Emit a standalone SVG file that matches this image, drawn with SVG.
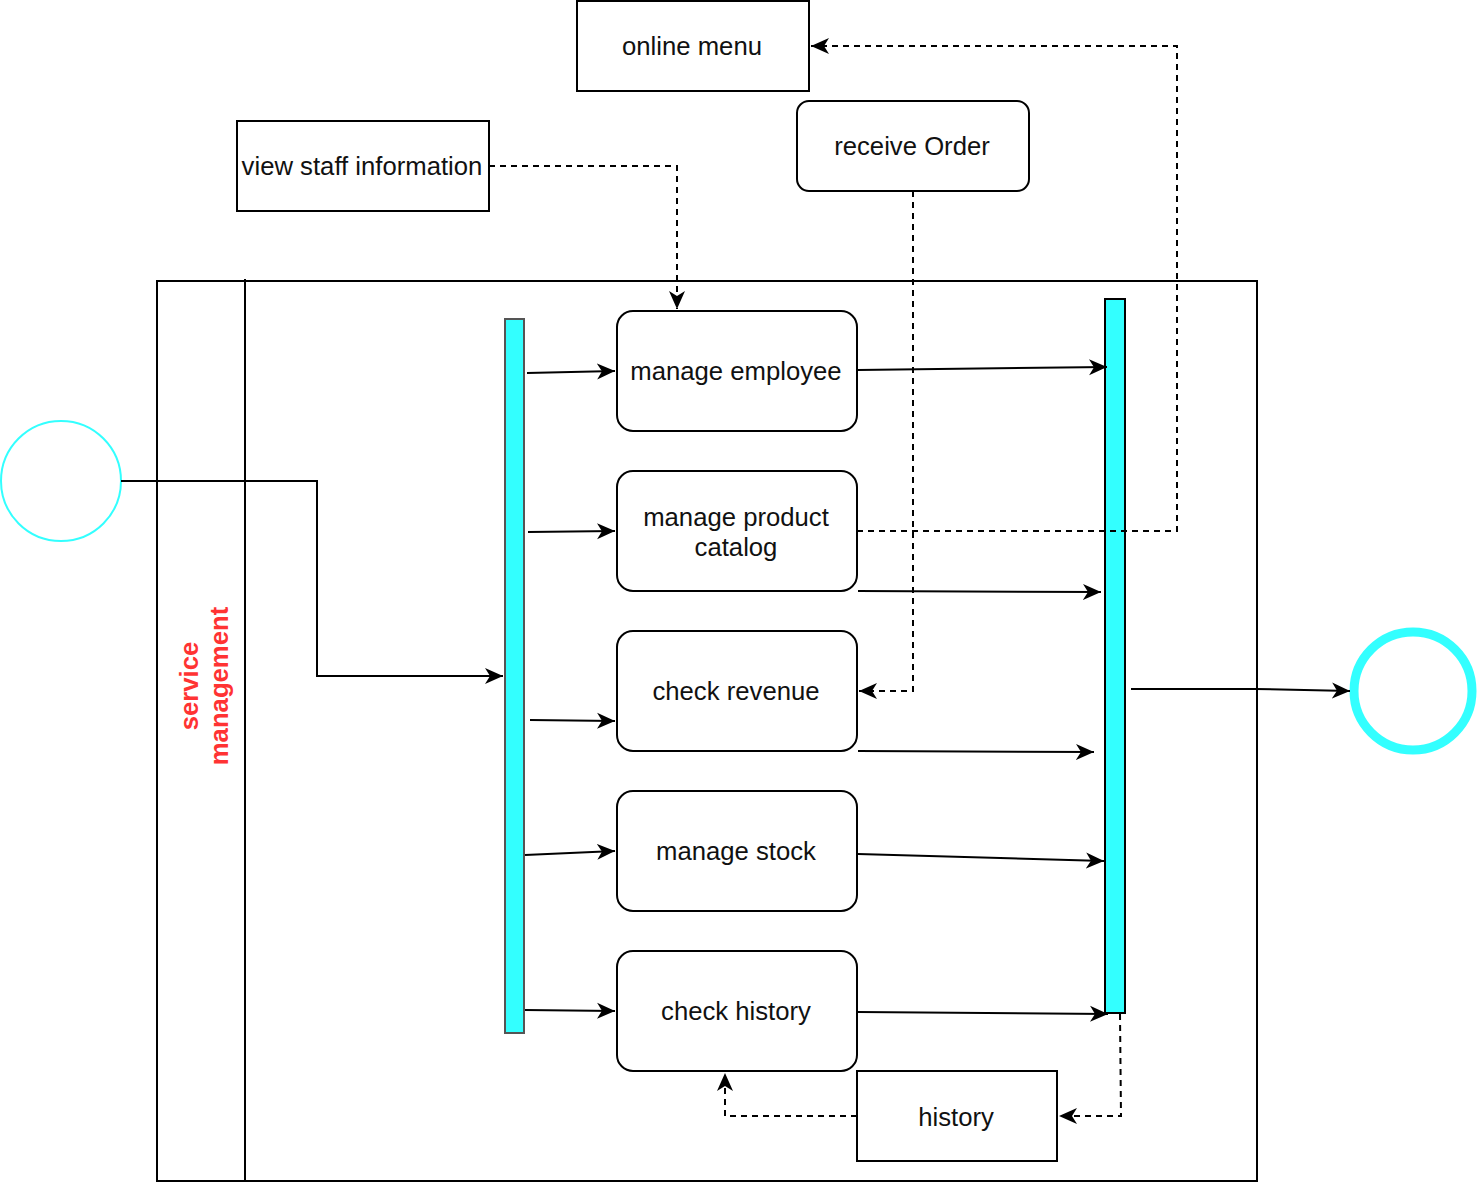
<svg xmlns="http://www.w3.org/2000/svg" width="1478" height="1184" viewBox="0 0 1478 1184">
<defs>
<marker id="arr" markerUnits="userSpaceOnUse" markerWidth="20" markerHeight="18" refX="18" refY="9" orient="auto">
<path d="M0,1 L18,9 L0,17 L5,9 Z" fill="#000"/>
</marker>
<style>
.node{fill:#fff;stroke:#000;stroke-width:2}
.t{font-family:"Liberation Sans",Arial,sans-serif;font-size:25.7px;fill:#111;text-anchor:middle}
.c{fill:none;stroke:#000;stroke-width:2}
.d{fill:none;stroke:#000;stroke-width:2;stroke-dasharray:6,5}
.bar{fill:#33FFFF;stroke-width:2}
</style>
</defs>
<rect width="1478" height="1184" fill="#fff"/>
<g id="pool">
<rect x="157" y="281" width="1100" height="900" fill="none" stroke="#000" stroke-width="2"/>
<line x1="245" y1="279" x2="245" y2="1181" stroke="#000" stroke-width="2"/>
<text transform="translate(205,686) rotate(-90)" font-family="'Liberation Sans',Arial,sans-serif" font-size="25.7" font-weight="bold" fill="#FF3333" text-anchor="middle"><tspan x="0" y="-7">service</tspan><tspan x="0" y="23">management</tspan></text>
</g>
<g id="start"><circle cx="61" cy="481" r="60" fill="#fff" stroke="#33FFFF" stroke-width="2"/></g>
<g id="end"><circle cx="1413" cy="691" r="59" fill="#fff" stroke="#33FFFF" stroke-width="9"/></g>
<g id="fork"><rect class="bar" x="505" y="319" width="19" height="714" stroke="#555"/></g>
<g id="join"><rect class="bar" x="1105" y="299" width="20" height="714" stroke="#000"/></g>
<g id="online-menu"><rect class="node" x="577" y="1" width="232" height="90"/><text class="t" x="692" y="55">online menu</text></g>
<g id="view-staff"><rect class="node" x="237" y="121" width="252" height="90"/><text class="t" x="362" y="175">view staff information</text></g>
<g id="receive-order"><rect class="node" x="797" y="101" width="232" height="90" rx="12"/><text class="t" x="912" y="155">receive Order</text></g>
<g id="manage-employee"><rect class="node" x="617" y="311" width="240" height="120" rx="16"/><text class="t" x="736" y="380">manage employee</text></g>
<g id="manage-product"><rect class="node" x="617" y="471" width="240" height="120" rx="16"/><text class="t" x="736" y="526">manage product</text><text class="t" x="736" y="556">catalog</text></g>
<g id="check-revenue"><rect class="node" x="617" y="631" width="240" height="120" rx="16"/><text class="t" x="736" y="700">check revenue</text></g>
<g id="manage-stock"><rect class="node" x="617" y="791" width="240" height="120" rx="16"/><text class="t" x="736" y="860">manage stock</text></g>
<g id="check-history"><rect class="node" x="617" y="951" width="240" height="120" rx="16"/><text class="t" x="736" y="1020">check history</text></g>
<g id="history"><rect class="node" x="857" y="1071" width="200" height="90"/><text class="t" x="956" y="1126">history</text></g>
<g id="connectors">
<path class="c" d="M121,481 H317 V676 H503" marker-end="url(#arr)"/>
<path class="c" d="M527,373 L615,371" marker-end="url(#arr)"/>
<path class="c" d="M528,532 L615,531" marker-end="url(#arr)"/>
<path class="c" d="M530,720 L615,721" marker-end="url(#arr)"/>
<path class="c" d="M525,855 L615,851" marker-end="url(#arr)"/>
<path class="c" d="M525,1010 L615,1011" marker-end="url(#arr)"/>
<path class="c" d="M858,370 L1107,367" marker-end="url(#arr)"/>
<path class="c" d="M858,591 L1101,592" marker-end="url(#arr)"/>
<path class="c" d="M858,751 L1094,752" marker-end="url(#arr)"/>
<path class="c" d="M858,854 L1104,861" marker-end="url(#arr)"/>
<path class="c" d="M858,1012 L1108,1014" marker-end="url(#arr)"/>
<path class="c" d="M1131,689 H1255 L1350,691" marker-end="url(#arr)"/>
<path class="d" d="M489,166 H677 V309" marker-end="url(#arr)"/>
<path class="d" d="M913,191 V691 H859" marker-end="url(#arr)"/>
<path class="d" d="M857,531 H1177 V46 H811" marker-end="url(#arr)"/>
<path class="d" d="M1120,1014 L1121,1116 H1059" marker-end="url(#arr)"/>
<path class="d" d="M857,1116 H725 V1073" marker-end="url(#arr)"/>
</g>
</svg>
